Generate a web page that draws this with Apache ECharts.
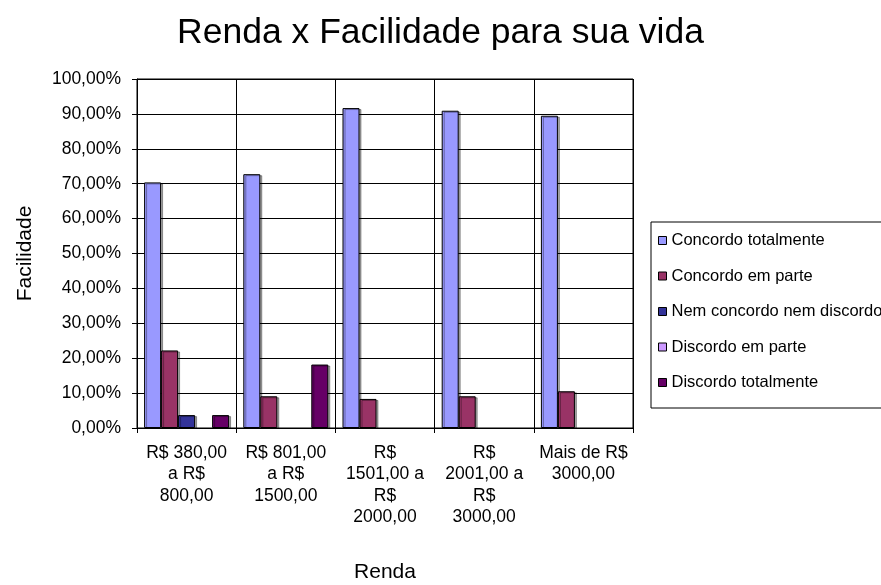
<!DOCTYPE html>
<html>
<head>
<meta charset="utf-8">
<script src="https://cdn.jsdelivr.net/npm/echarts@6/dist/echarts.min.js"></script>
<style>
  html, body { margin: 0; padding: 0; background: #fff; }
  #chart { width: 881px; height: 585px; }
</style>
</head>
<body>
<div id="chart"></div>
<script>
// income brackets (tick labels, line breaks as in the original)
const categories = [
  "R$ 380,00\na R$\n800,00",
  "R$ 801,00\na R$\n1500,00",
  "R$\n1501,00 a\nR$\n2000,00",
  "R$\n2001,00 a\nR$\n3000,00",
  "Mais de R$\n3000,00"
];

// answers, percent per bracket ('-' = no bar)
const concordoTotalmente = [70.37, 72.73, 91.67, 90.91, 89.47];
const concordoEmParte = [22.22, 9.09, 8.33, 9.09, 10.53];
const nemConcordoNemDiscordo = [3.70, "-", "-", "-", "-"];
const discordoEmParte = ["-", "-", "-", "-", "-"];
const discordoTotalmente = [3.70, 18.18, "-", "-", "-"];

const seriesNames = [
  "Concordo totalmente",
  "Concordo em parte",
  "Nem concordo nem discordo",
  "Discordo em parte",
  "Discordo totalmente"
];
const seriesData = [concordoTotalmente, concordoEmParte, nemConcordoNemDiscordo, discordoEmParte, discordoTotalmente];
const colors = ["#9999FF", "#993366", "#333399", "#CC99FF", "#660066"];

const font = "'Liberation Sans', Arial, sans-serif";

const chart = echarts.init(document.getElementById("chart"));

chart.setOption({
  backgroundColor: "#fff",
  animation: false,
  title: {
    text: "Renda x Facilidade para sua vida",
    left: "center",
    top: 10,
    textStyle: { fontFamily: font, fontSize: 35.5, fontWeight: "normal", color: "#000" }
  },
  legend: {
    orient: "vertical",
    left: 651,
    top: 222,
    padding: [10, 12, 17, 7],
    itemGap: 18.5,
    itemWidth: 8,
    itemHeight: 8,
    icon: "rect",
    borderColor: "#000",
    borderWidth: 1,
    textStyle: { fontFamily: font, fontSize: 16.5, color: "#000" },
    data: seriesNames.map(n => ({ name: n, itemStyle: { borderColor: "#000", borderWidth: 1 } }))
  },
  grid: {
    left: 137,
    right: 248,
    top: 79,
    bottom: 157,
    outerBoundsMode: "none",
    containLabel: false,
    show: true,
    borderColor: "#000",
    borderWidth: 1
  },
  xAxis: {
    type: "category",
    data: categories,
    name: "Renda",
    nameLocation: "middle",
    nameGap: 134,
    nameTextStyle: { fontFamily: font, fontSize: 21, color: "#000" },
    axisLine: { lineStyle: { color: "#000" } },
    axisTick: { show: true, length: 5, lineStyle: { color: "#000" } },
    splitLine: { show: true, lineStyle: { color: "#000", width: 1 } },
    axisLabel: {
      interval: 0,
      margin: 14,
      fontFamily: font,
      fontSize: 17.5,
      lineHeight: 21.5,
      color: "#000"
    }
  },
  yAxis: {
    type: "value",
    min: 0,
    max: 100,
    interval: 10,
    name: "Facilidade",
    nameLocation: "middle",
    nameGap: 101,
    nameRotate: 90,
    nameTextStyle: { fontFamily: font, fontSize: 21, color: "#000" },
    axisLine: { show: true, lineStyle: { color: "#000" } },
    axisTick: { show: true, length: 5, lineStyle: { color: "#000" } },
    splitLine: { show: true, lineStyle: { color: "#000", width: 1 } },
    axisLabel: {
      margin: 16,
      fontFamily: font,
      fontSize: 17.5,
      color: "#000",
      formatter: v => v.toFixed(2).replace(".", ",") + "%"
    }
  },
  series: seriesNames.map((name, i) => ({
    name: name,
    type: "bar",
    data: seriesData[i],
    barWidth: 17,
    barGap: "0%",
    itemStyle: {
      color: colors[i],
      borderColor: "#000",
      borderWidth: 1,
      shadowColor: "rgba(0,0,0,0.35)",
      shadowOffsetX: 2,
      shadowOffsetY: 1
    }
  }))
});
</script>
</body>
</html>
